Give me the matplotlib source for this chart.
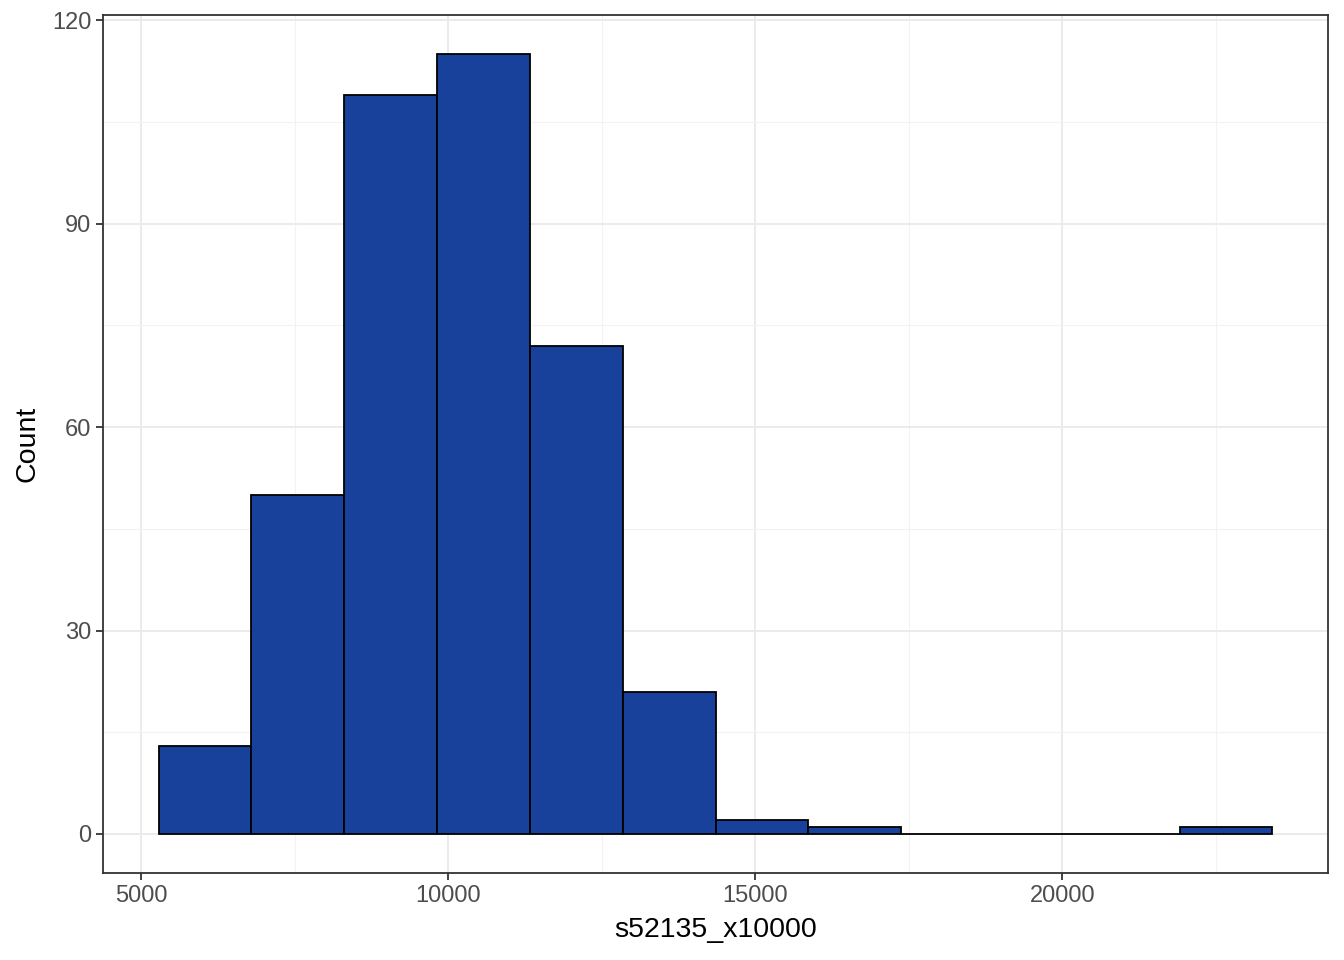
import numpy as np
from matplotlib import pyplot as plt

# histogram of s52135_x10000 (12 bins)
bin_start = 5285
bin_width = 1511
counts = [13, 50, 109, 115, 72, 21, 2, 1, 0, 0, 0, 1]

x_ticks = [5000, 10000, 15000, 20000]
y_ticks = [0, 30, 60, 90, 120]

plt.rcParams['font.family'] = ['Liberation Sans', 'DejaVu Sans']

edges = bin_start + bin_width * np.arange(len(counts) + 1)

fig = plt.figure(figsize=(13.44, 9.6), dpi=100)
ax = fig.add_axes([103/1344, 1 - 873/960, (1328-103)/1344, (873-15)/960])

ax.bar(edges[:-1], counts, width=bin_width, align='edge',
       color='#17419A', edgecolor='black', linewidth=1.3, zorder=3)

span = edges[-1] - edges[0]
ax.set_xlim(edges[0] - 0.05 * span, edges[-1] + 0.05 * span)
ax.set_ylim(-0.05 * max(counts), max(counts) * 1.05)

ax.set_xticks(x_ticks)
ax.set_yticks(y_ticks)
ax.set_xticks([7500, 12500, 17500, 22500], minor=True)
ax.set_yticks([15, 45, 75, 105], minor=True)
ax.grid(which='major', color='#EBEBEB', linewidth=1.4, zorder=0)
ax.grid(which='minor', color='#F2F2F2', linewidth=0.8, zorder=0)
ax.set_axisbelow(True)

ax.tick_params(which='major', length=5, width=1.3, color='#333333',
               labelcolor='#4D4D4D', labelsize=17)
ax.tick_params(which='minor', length=0)
for s in ax.spines.values():
    s.set_color('#333333')
    s.set_linewidth(1.3)

ax.set_xlabel('s52135_x10000', fontsize=20.5, color='black', labelpad=7)
ax.set_ylabel('Count', fontsize=20.5, color='black', labelpad=8)

fig.savefig('out.png', dpi=100)
